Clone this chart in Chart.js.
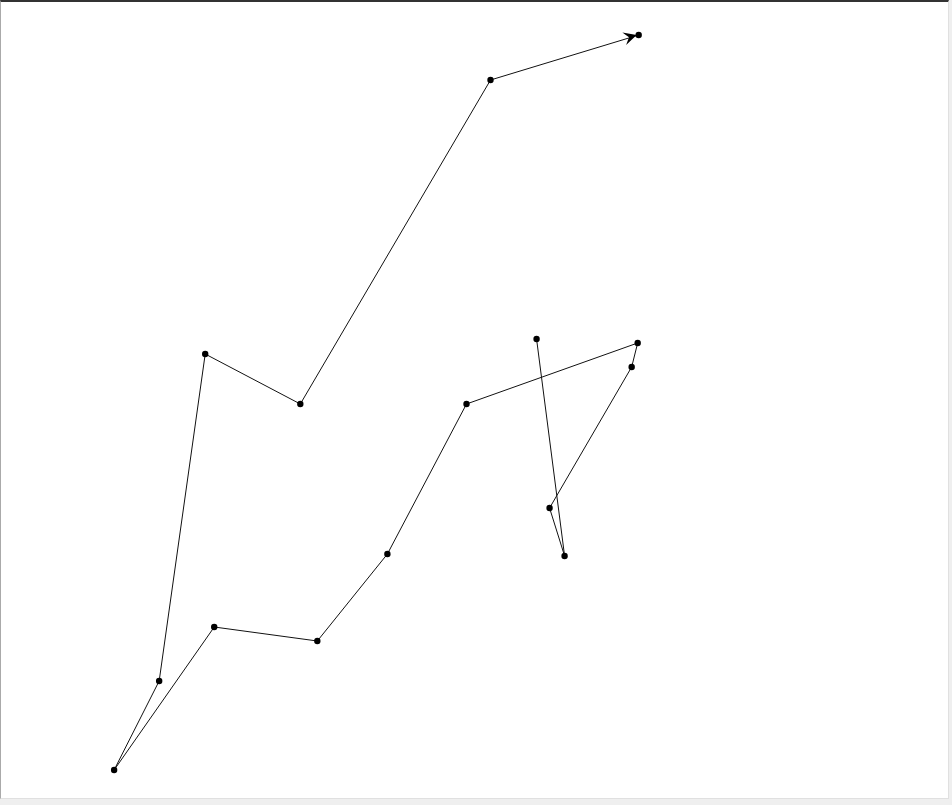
<!DOCTYPE html>
<html>
<head>
<meta charset="utf-8">
<script src="https://cdn.jsdelivr.net/npm/chart.js@4.4.0/dist/chart.umd.min.js"></script>
<style>
  html, body { margin: 0; padding: 0; background: #efefef; width: 952px; height: 805px; overflow: hidden; }
  #frame { position: absolute; left: 0; top: 0; width: 947px; height: 796px; background: #fff;
           border-top: 2px solid #333; border-left: 1px solid #aaa; border-right: 1px solid #e0e0e0; border-bottom: 1px solid #e0e0e0; }
  #wrap { position: absolute; left: 0; top: 0; width: 952px; height: 805px; }
</style>
</head>
<body>
<div id="frame"></div>
<div id="wrap"><canvas id="c" width="952" height="805"></canvas></div>
<script>
// Path values (x to the right, y upward)
const xValues = [536, 564, 549, 631, 637, 466, 387, 317, 214, 114, 159, 205, 300, 490, 638];
const yValues = [466, 249, 297, 438, 462, 401, 251, 164, 178, 35, 124, 451, 401, 725, 770];
const xRange = [4, 947];
const yRange = [4, 801];

const points = xValues.map((x, i) => ({ x: x, y: yValues[i] }));

const arrowPlugin = {
  id: 'arrowHead',
  afterDatasetsDraw(chart) {
    const meta = chart.getDatasetMeta(0);
    const n = meta.data.length;
    if (n < 2) return;
    const a = meta.data[n - 2], b = meta.data[n - 1];
    const ang = Math.atan2(b.y - a.y, b.x - a.x);
    const ctx = chart.ctx;
    ctx.save();
    ctx.translate(b.x - 2, b.y);
    ctx.rotate(ang);
    ctx.beginPath();
    ctx.moveTo(0, 0);
    ctx.lineTo(-13, -6.5);
    ctx.lineTo(-8, 0);
    ctx.lineTo(-13, 6.5);
    ctx.closePath();
    ctx.fillStyle = '#000';
    ctx.fill();
    ctx.restore();
  }
};

new Chart(document.getElementById('c'), {
  type: 'scatter',
  data: {
    datasets: [{
      data: points,
      showLine: true,
      borderColor: '#111',
      borderWidth: 1,
      backgroundColor: '#000',
      pointRadius: 3.2,
      pointBorderWidth: 0,
      pointBackgroundColor: '#000',
      tension: 0,
      clip: false
    }]
  },
  options: {
    responsive: false,
    animation: false,
    events: [],
    layout: { padding: 0 },
    plugins: { legend: { display: false }, tooltip: { enabled: false } },
    scales: {
      x: { type: 'linear', display: false, min: xRange[0], max: xRange[1] },
      y: { type: 'linear', display: false, min: yRange[0], max: yRange[1] }
    }
  },
  plugins: [arrowPlugin]
});
</script>
</body>
</html>
